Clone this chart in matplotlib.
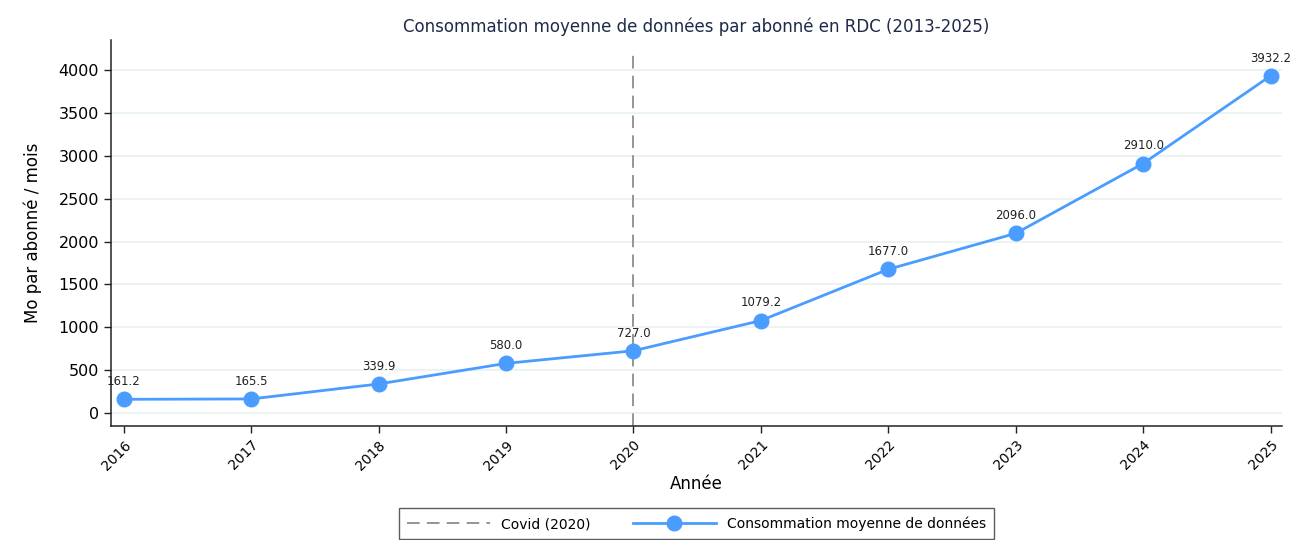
#Consommation moyenne de donnees par abonne en RDC
import numpy as np
import matplotlib.pyplot as plt

# Data
annees = [2016, 2017, 2018, 2019, 2020, 2021, 2022, 2023, 2024, 2025]
conso = [161.2, 165.5, 339.9, 580.0, 727.0, 1079.2, 1677.0, 2096.0, 2910.0, 3932.2]
annee_covid = 2020

bleu = '#4a9dff'

fig = plt.figure(figsize=(12.98, 5.4), dpi=100)
ax = fig.add_axes([0.0855, 0.2111, 0.9022, 0.7148])

# light horizontal grid
ax.set_yticks(np.arange(0, 4001, 500))
ax.grid(axis='y', color='#ebf2f2', linewidth=1.3)
ax.set_axisbelow(True)

# Covid line
ax.vlines(annee_covid, -150, 4230, colors='#8c8c8c', linestyles=(0, (7, 4)),
          linewidth=1.3, label='Covid (2020)', zorder=2)

# main series
ax.plot(annees, conso, color=bleu, linewidth=2, marker='o', markersize=10.5,
        label='Consommation moyenne de données', zorder=3)
for x, y in zip(annees, conso):
    ax.annotate(f'{y:.1f}', (x, y), xytext=(0, 8), textcoords='offset points',
                ha='center', va='bottom', fontsize=8.5, color='#222222')

ax.set_xlim(2015.9, 2025.09)
ax.set_ylim(-150, 4350)
ax.set_xticks(annees)
ax.set_xticklabels([str(a) for a in annees], rotation=45, ha='right',
                   rotation_mode='anchor', fontsize=10)
ax.tick_params(axis='y', labelsize=11.5)
ax.tick_params(axis='both', length=5, width=1, color='#222222')

for s in ['top', 'right']:
    ax.spines[s].set_visible(False)
for s in ['left', 'bottom']:
    ax.spines[s].set_color('#222222')
    ax.spines[s].set_linewidth(1.1)

ax.set_title('Consommation moyenne de données par abonné en RDC (2013-2025)',
             fontsize=12, color='#1e2a48', pad=6)
ax.set_xlabel('Année', fontsize=12, labelpad=2)
ax.set_ylabel('Mo par abonné / mois', fontsize=12, labelpad=12)

leg = ax.legend(loc='upper center', bbox_to_anchor=(0.5, -0.195), ncol=2,
                fontsize=10, frameon=True, fancybox=False, edgecolor='#333333',
                handlelength=6, columnspacing=3, borderpad=0.6)
leg.get_frame().set_linewidth(1)

plt.savefig('out.png', dpi=100)
